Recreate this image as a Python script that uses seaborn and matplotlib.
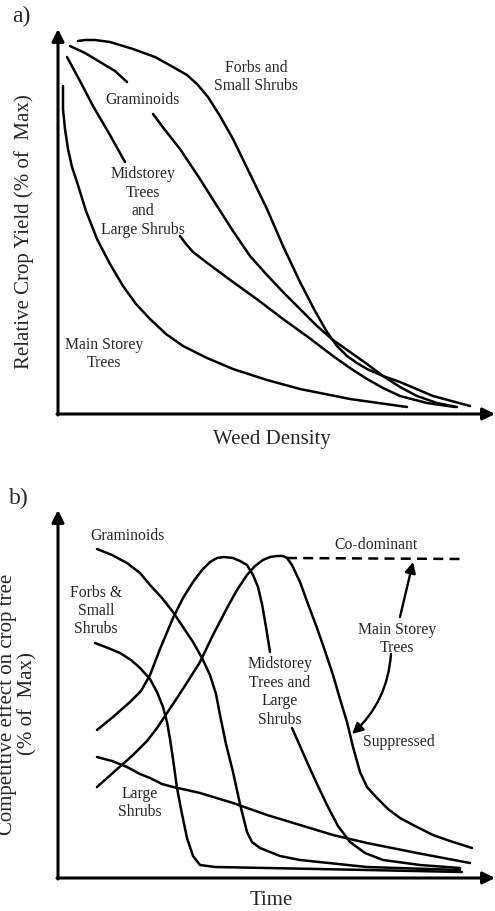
import matplotlib
matplotlib.use("Agg")
import matplotlib.pyplot as plt
import seaborn as sns
import pandas as pd

# --- curve data (figure pixel coordinates) ---
# panel a) relative crop yield vs weed density
a_forbs_x = [78, 85, 95, 110, 133, 155, 173, 187, 197, 208, 220, 233, 250, 267, 283,
             300, 315, 327, 337, 347, 357, 367, 383, 400, 433, 470]
a_forbs_y = [42, 41, 41, 43, 50, 58, 68, 76, 85, 98, 117, 140, 175, 210, 247,
             283, 312, 333, 347, 357, 364, 370, 377, 383, 397, 407]

a_gram1_x = [70, 85, 100, 115, 127]
a_gram1_y = [47, 54, 63, 72, 83]
a_gram2_x = [153, 165, 180, 200, 217, 233, 250, 267, 283, 300, 317, 333, 350, 367,
             383, 400, 417, 437, 457]
a_gram2_y = [115, 131, 150, 180, 207, 232, 257, 276, 293, 310, 327, 341, 353, 365,
             377, 388, 397, 404, 408]

a_mid1_x = [67, 80, 93, 110, 125]
a_mid1_y = [58, 82, 107, 136, 163]
a_mid2_x = [180, 186, 193, 210, 233, 258, 283, 308, 333, 350, 367, 383, 400, 427, 455]
a_mid2_y = [237, 245, 253, 266, 283, 301, 320, 338, 357, 369, 380, 389, 397, 404, 408]

a_main_x = [63, 63, 65, 68, 72, 77, 86, 97, 110, 123, 136, 150, 166, 183, 207, 233,
            267, 300, 350, 407]
a_main_y = [87, 110, 130, 150, 168, 183, 212, 240, 265, 287, 305, 320, 335, 347, 359,
            370, 381, 390, 400, 408]

# panel b) competitive effect on crop tree vs time
b_gram_x = [97, 112, 127, 140, 150, 162, 173, 183, 193, 202, 210, 216, 220, 226, 233,
            240, 247, 252, 260, 280, 300, 367, 460]
b_gram_y = [550, 556, 564, 574, 586, 599, 613, 628, 643, 659, 676, 695, 716, 745, 773,
            805, 833, 843, 849, 857, 861, 868, 871]

b_forbs_x = [95, 108, 120, 131, 140, 150, 157, 163, 167, 170, 173, 177, 182, 187, 193,
             200, 215, 267, 367, 462]
b_forbs_y = [644, 649, 654, 661, 669, 680, 693, 708, 723, 740, 760, 789, 815, 839, 857,
             866, 868, 869, 871, 873]

b_mid1_x = [97, 113, 130, 141, 150, 160, 173, 183, 193, 202, 210, 217, 224, 233, 240,
            247, 253, 258, 262, 266, 270]
b_mid1_y = [731, 718, 703, 692, 676, 650, 619, 599, 583, 571, 563, 559, 558, 559, 562,
            566, 576, 588, 605, 628, 653]
b_mid2_x = [292, 300, 307, 317, 327, 338, 350, 365, 383, 420, 460]
b_mid2_y = [729, 747, 763, 785, 806, 827, 843, 854, 861, 866, 869]

b_large_x = [97, 112, 127, 140, 150, 162, 173, 187, 200, 233, 267, 300, 333, 367, 417, 470]
b_large_y = [758, 762, 768, 775, 779, 785, 788, 791, 794, 804, 816, 826, 836, 844, 854, 864]

b_main_x = [97, 115, 133, 147, 157, 167, 177, 188, 200, 213, 227, 237, 247, 255, 263,
            270, 277, 283, 287, 292, 300, 308, 317, 325, 333, 340, 347, 353, 360, 367,
            377, 388, 400, 417, 433, 450, 472]
b_main_y = [788, 772, 756, 742, 729, 714, 699, 682, 663, 636, 609, 591, 576, 567, 561,
            558, 557, 557, 559, 566, 583, 605, 629, 652, 676, 700, 723, 748, 773, 788,
            799, 810, 819, 828, 836, 842, 849]

b_codom_x = [287, 465]
b_codom_y = [559, 560]

sns.set_theme(style="white")
plt.rcParams['font.family'] = ['Liberation Serif', 'DejaVu Serif']

fig = plt.figure(figsize=(4.95, 9.12), dpi=100)
ax = fig.add_axes([0, 0, 1, 1])

lw = 1.8
curves = [
    (a_forbs_x, a_forbs_y), (a_gram1_x, a_gram1_y), (a_gram2_x, a_gram2_y),
    (a_mid1_x, a_mid1_y), (a_mid2_x, a_mid2_y), (a_main_x, a_main_y),
    (b_gram_x, b_gram_y), (b_forbs_x, b_forbs_y), (b_mid1_x, b_mid1_y),
    (b_mid2_x, b_mid2_y), (b_large_x, b_large_y), (b_main_x, b_main_y),
]
for xs, ys in curves:
    df = pd.DataFrame({'x': xs, 'y': ys})
    sns.lineplot(data=df, x='x', y='y', sort=False, estimator=None,
                 color='black', lw=lw, ax=ax)
sns.lineplot(x=b_codom_x, y=b_codom_y, sort=False, estimator=None,
             color='black', lw=lw, ax=ax, dashes=[(4, 2.5)], style=[0, 0],
             legend=False)
ax.set_xlim(0, 495)
ax.set_ylim(912, 0)
ax.axis('off')

# axes with arrow heads
arr = dict(arrowstyle='-|>', color='black', lw=2.2, mutation_scale=18,
           shrinkA=0, shrinkB=0)
ax.annotate('', xy=(58, 30), xytext=(58, 416), arrowprops=arr)
ax.annotate('', xy=(495, 415), xytext=(57, 415), arrowprops=arr)
ax.annotate('', xy=(58, 511), xytext=(58, 880), arrowprops=arr)
ax.annotate('', xy=(495, 879), xytext=(57, 879), arrowprops=arr)

# double arrow for main storey trees
dbl = dict(arrowstyle='-|>', color='black', lw=1.7, mutation_scale=16,
           shrinkA=0, shrinkB=0)
ax.annotate('', xy=(413, 563), xytext=(400, 618),
            arrowprops=dict(dbl, connectionstyle='arc3,rad=0.0'))
ax.annotate('', xy=(352, 735), xytext=(391, 655),
            arrowprops=dict(dbl, connectionstyle='arc3,rad=-0.2'))

fs = 11.3
# panel a text
ax.text(21, 16, 'a)', fontsize=17, ha='center', va='center')
ax.text(256, 77, 'Forbs and\nSmall Shrubs', fontsize=fs, ha='center', va='center')
ax.text(143, 100, 'Graminoids', fontsize=fs, ha='center', va='center')
ax.text(143, 202, 'Midstorey\nTrees\nand\nLarge Shrubs', fontsize=fs, ha='center', va='center')
ax.text(104, 354, 'Main Storey\nTrees', fontsize=fs, ha='center', va='center')
ax.text(272, 440, 'Weed Density', fontsize=15, ha='center', va='center')
ax.text(24, 232, 'Relative Crop Yield (% of  Max)', fontsize=15, ha='center',
        va='center', rotation=90)

# panel b text
ax.text(19, 498, 'b)', fontsize=17, ha='center', va='center')
ax.text(128, 536, 'Graminoids', fontsize=fs, ha='center', va='center')
ax.text(376, 545, 'Co-dominant', fontsize=fs, ha='center', va='center')
ax.text(96, 611, 'Forbs &\nSmall\nShrubs', fontsize=fs, ha='center', va='center')
ax.text(397, 639, 'Main Storey\nTrees', fontsize=fs, ha='center', va='center')
ax.text(280, 692, 'Midstorey\nTrees and\nLarge\nShrubs', fontsize=fs, ha='center', va='center')
ax.text(399, 742, 'Suppressed', fontsize=fs, ha='center', va='center')
ax.text(140, 803, 'Large\nShrubs', fontsize=fs, ha='center', va='center')
ax.text(271, 901, 'Time', fontsize=15, ha='center', va='center')
# the reference crops this label at the left edge
ax.text(17, 704, 'Competitive effect on crop tree\n(% of  Max)', fontsize=15,
        ha='center', va='center', rotation=90, linespacing=1.05)

fig.savefig('out.png', dpi=100, facecolor='white')
